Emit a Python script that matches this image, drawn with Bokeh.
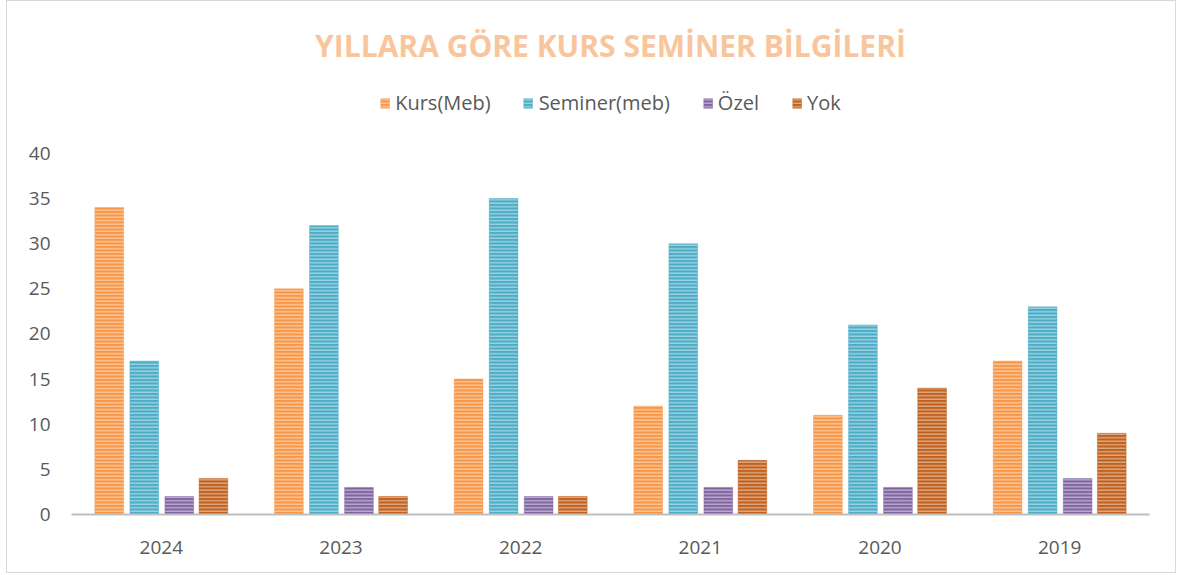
from bokeh.plotting import figure
from bokeh.models import FactorRange, Range1d, FixedTicker, Legend, LegendItem, ColumnDataSource
from bokeh.transform import dodge
from bokeh.embed import file_html
from bokeh.resources import INLINE

years = ["2024", "2023", "2022", "2021", "2020", "2019"]
series_names = ["Kurs(Meb)", "Seminer(meb)", "Özel", "Yok"]
kurs_meb = [34, 25, 15, 12, 11, 17]
seminer_meb = [17, 32, 35, 30, 21, 23]
ozel = [2, 3, 2, 3, 3, 4]
yok = [4, 2, 2, 6, 14, 9]
y_ticks = [0, 5, 10, 15, 20, 25, 30, 35, 40]

colors = ["#F79646", "#4BACC6", "#8064A2", "#C0601C"]
offsets = [-0.29, -0.095, 0.1, 0.29]

src = ColumnDataSource(dict(year=years, k=kurs_meb, s=seminer_meb, o=ozel, y=yok))

FONT = "Open Sans"
p = figure(width=1170, height=573, x_range=FactorRange(*years, range_padding=0),
           y_range=Range1d(0, 47.3), output_backend="svg", toolbar_location=None,
           min_border_left=64, min_border_right=28, min_border_bottom=60, min_border_top=86)

p.title.text = "YILLARA GÖRE KURS SEMİNER BİLGİLERİ"
p.title.align = "center"
p.title.vertical_align = "top"
p.title.text_font = FONT
p.title.text_font_size = "30px"
p.title.text_font_style = "bold"
p.title.text_color = "#F9C59C"
p.title.standoff = 40

renderers = []
for col, c, off in zip(["k", "s", "o", "y"], colors, offsets):
    r = p.vbar(x=dodge("year", off, range=p.x_range), top=col, width=0.16, source=src,
               fill_color=c, line_color=c, line_alpha=0.4, line_width=1,
               hatch_pattern="horizontal_line", hatch_color="white", hatch_alpha=0.5,
               hatch_scale=3.5, hatch_weight=1.3)
    renderers.append(r)

legend = Legend(items=[LegendItem(label=n, renderers=[r]) for n, r in zip(series_names, renderers)],
                orientation="horizontal", location="top_center",
                label_text_font=FONT, label_text_font_size="20px", label_text_color="#595959",
                glyph_width=11, glyph_height=12, label_standoff=5, spacing=32,
                border_line_color=None, background_fill_alpha=0, margin=2, padding=2)
p.add_layout(legend, "center")

p.yaxis.ticker = FixedTicker(ticks=y_ticks)
p.yaxis.axis_line_color = None
p.yaxis.major_tick_line_color = None
p.yaxis.minor_tick_line_color = None
p.yaxis.major_label_text_font = FONT
p.yaxis.major_label_text_font_size = "19px"
p.yaxis.major_label_text_color = "#595959"
p.yaxis.major_label_standoff = 15

p.xaxis.axis_line_color = "#BFBFBF"
p.xaxis.axis_line_width = 2
p.xaxis.major_tick_line_color = None
p.xaxis.minor_tick_line_color = None
p.xaxis.major_label_text_font = FONT
p.xaxis.major_label_text_font_size = "19px"
p.xaxis.major_label_text_color = "#595959"
p.xaxis.major_label_standoff = 20

p.xgrid.grid_line_color = None
p.ygrid.grid_line_color = None
p.outline_line_color = None
p.styles = {"border": "1px solid #D9D9D9", "margin-left": "6px"}

open("out.html", "w").write(file_html(p, INLINE))
